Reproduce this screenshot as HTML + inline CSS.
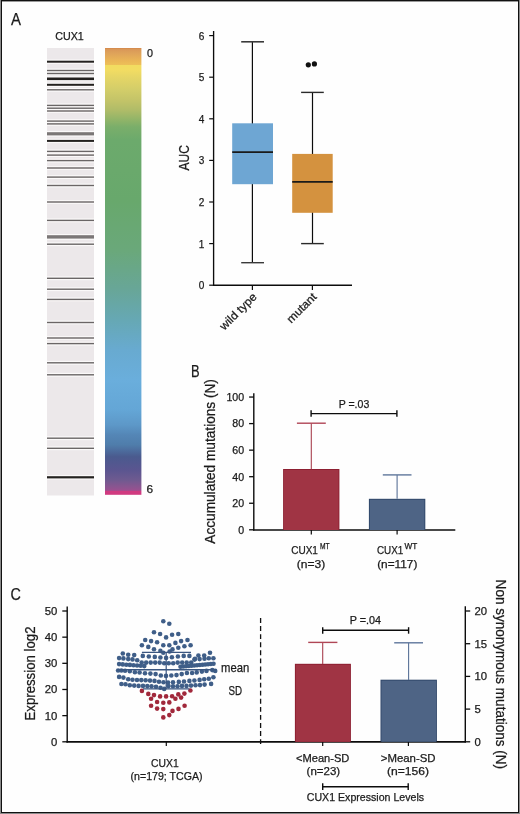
<!DOCTYPE html>
<html><head><meta charset="utf-8"><style>
html,body{margin:0;padding:0;background:#fefefe;}
body{width:520px;height:814px;overflow:hidden;position:relative;}
svg{position:absolute;left:0;top:0;will-change:transform;}
text{font-family:"Liberation Sans", sans-serif;stroke:#1a1a1a;stroke-width:0.25px;paint-order:stroke;}
</style></head><body>
<svg width="520" height="814" viewBox="0 0 520 814">
<rect x="0" y="0" width="520" height="814" fill="#8a8a8a"/>
<rect x="1" y="0" width="518" height="813" fill="#111"/>
<rect x="2" y="1" width="516" height="811" fill="#fefefe"/>
<rect x="2" y="1" width="516" height="0.6" fill="#555"/>
<text x="11.0" y="25.4" font-size="16.5" text-anchor="start" fill="#1a1a1a" textLength="10.0" lengthAdjust="spacingAndGlyphs" >A</text>
<text x="55.2" y="39.6" font-size="11" text-anchor="start" fill="#1a1a1a" textLength="28.6" lengthAdjust="spacingAndGlyphs" >CUX1</text>
<rect x="47" y="48" width="47" height="447.5" fill="#ece8ea"/>
<rect x="47" y="59.5" width="47" height="4.4" fill="#fbf9f9"/>
<rect x="47" y="68.6" width="47" height="3.8" fill="#fbf9f9"/>
<rect x="47" y="71.6" width="47" height="3.8" fill="#fbf9f9"/>
<rect x="47" y="76.3" width="47" height="5.0" fill="#fbf9f9"/>
<rect x="47" y="82.6" width="47" height="4.4" fill="#fbf9f9"/>
<rect x="47" y="87.9" width="47" height="3.8" fill="#fbf9f9"/>
<rect x="47" y="103.5" width="47" height="3.8" fill="#fbf9f9"/>
<rect x="47" y="106.3" width="47" height="3.8" fill="#fbf9f9"/>
<rect x="47" y="109.1" width="47" height="3.8" fill="#fbf9f9"/>
<rect x="47" y="119.2" width="47" height="3.8" fill="#fbf9f9"/>
<rect x="47" y="122.0" width="47" height="3.8" fill="#fbf9f9"/>
<rect x="47" y="131.0" width="47" height="5.6" fill="#fbf9f9"/>
<rect x="47" y="138.7" width="47" height="4.4" fill="#fbf9f9"/>
<rect x="47" y="149.5" width="47" height="3.8" fill="#fbf9f9"/>
<rect x="47" y="153.2" width="47" height="3.8" fill="#fbf9f9"/>
<rect x="47" y="158.7" width="47" height="3.8" fill="#fbf9f9"/>
<rect x="47" y="166.1" width="47" height="3.8" fill="#fbf9f9"/>
<rect x="47" y="175.2" width="47" height="3.8" fill="#fbf9f9"/>
<rect x="47" y="183.6" width="47" height="3.8" fill="#fbf9f9"/>
<rect x="47" y="200.1" width="47" height="3.8" fill="#fbf9f9"/>
<rect x="47" y="218.5" width="47" height="3.8" fill="#fbf9f9"/>
<rect x="47" y="234.0" width="47" height="5.8" fill="#fbf9f9"/>
<rect x="47" y="242.3" width="47" height="3.8" fill="#fbf9f9"/>
<rect x="47" y="276.4" width="47" height="3.8" fill="#fbf9f9"/>
<rect x="47" y="287.3" width="47" height="3.8" fill="#fbf9f9"/>
<rect x="47" y="297.5" width="47" height="3.8" fill="#fbf9f9"/>
<rect x="47" y="320.6" width="47" height="3.8" fill="#fbf9f9"/>
<rect x="47" y="336.1" width="47" height="3.8" fill="#fbf9f9"/>
<rect x="47" y="341.7" width="47" height="3.8" fill="#fbf9f9"/>
<rect x="47" y="360.9" width="47" height="3.8" fill="#fbf9f9"/>
<rect x="47" y="372.9" width="47" height="3.8" fill="#fbf9f9"/>
<rect x="47" y="436.3" width="47" height="3.8" fill="#fbf9f9"/>
<rect x="47" y="446.4" width="47" height="3.8" fill="#fbf9f9"/>
<rect x="47" y="475.0" width="47" height="4.6" fill="#fbf9f9"/>
<rect x="47" y="60.7" width="47" height="2.0" fill="#242220"/>
<rect x="47" y="69.8" width="47" height="1.4" fill="#6a6666"/>
<rect x="47" y="72.8" width="47" height="1.4" fill="#6a6666"/>
<rect x="47" y="77.5" width="47" height="2.6" fill="#242220"/>
<rect x="47" y="83.8" width="47" height="2.0" fill="#242220"/>
<rect x="47" y="89.1" width="47" height="1.4" fill="#6a6666"/>
<rect x="47" y="104.7" width="47" height="1.4" fill="#6a6666"/>
<rect x="47" y="107.5" width="47" height="1.4" fill="#6a6666"/>
<rect x="47" y="110.3" width="47" height="1.4" fill="#6a6666"/>
<rect x="47" y="120.4" width="47" height="1.4" fill="#6a6666"/>
<rect x="47" y="123.2" width="47" height="1.4" fill="#6a6666"/>
<rect x="47" y="132.2" width="47" height="3.2" fill="#7b7777"/>
<rect x="47" y="139.9" width="47" height="2.0" fill="#242220"/>
<rect x="47" y="150.7" width="47" height="1.4" fill="#6a6666"/>
<rect x="47" y="154.4" width="47" height="1.4" fill="#6a6666"/>
<rect x="47" y="159.9" width="47" height="1.4" fill="#6a6666"/>
<rect x="47" y="167.3" width="47" height="1.4" fill="#6a6666"/>
<rect x="47" y="176.4" width="47" height="1.4" fill="#6a6666"/>
<rect x="47" y="184.8" width="47" height="1.4" fill="#6a6666"/>
<rect x="47" y="201.3" width="47" height="1.4" fill="#6a6666"/>
<rect x="47" y="219.7" width="47" height="1.4" fill="#6a6666"/>
<rect x="47" y="235.2" width="47" height="3.4" fill="#7b7777"/>
<rect x="47" y="243.5" width="47" height="1.4" fill="#6a6666"/>
<rect x="47" y="277.6" width="47" height="1.4" fill="#6a6666"/>
<rect x="47" y="288.5" width="47" height="1.4" fill="#6a6666"/>
<rect x="47" y="298.7" width="47" height="1.4" fill="#6a6666"/>
<rect x="47" y="321.8" width="47" height="1.4" fill="#6a6666"/>
<rect x="47" y="337.3" width="47" height="1.4" fill="#6a6666"/>
<rect x="47" y="342.9" width="47" height="1.4" fill="#6a6666"/>
<rect x="47" y="362.1" width="47" height="1.4" fill="#6a6666"/>
<rect x="47" y="374.1" width="47" height="1.4" fill="#6a6666"/>
<rect x="47" y="437.5" width="47" height="1.4" fill="#6a6666"/>
<rect x="47" y="447.6" width="47" height="1.4" fill="#6a6666"/>
<rect x="47" y="476.2" width="47" height="2.2" fill="#242220"/>
<defs><linearGradient id="cb" x1="0" y1="0" x2="0" y2="1">
<stop offset="0.0000" stop-color="#d4874a"/>
<stop offset="0.0034" stop-color="#da9858"/>
<stop offset="0.0112" stop-color="#dea25a"/>
<stop offset="0.0201" stop-color="#e4ac58"/>
<stop offset="0.0291" stop-color="#eab656"/>
<stop offset="0.0376" stop-color="#edbf58"/>
<stop offset="0.0387" stop-color="#f2dc60"/>
<stop offset="0.0492" stop-color="#f2dc62"/>
<stop offset="0.0671" stop-color="#e4d566"/>
<stop offset="0.0940" stop-color="#d2cd69"/>
<stop offset="0.1163" stop-color="#c4c468"/>
<stop offset="0.1387" stop-color="#b0bc68"/>
<stop offset="0.1611" stop-color="#90b468"/>
<stop offset="0.1767" stop-color="#7aae6a"/>
<stop offset="0.2058" stop-color="#6caa6c"/>
<stop offset="0.3400" stop-color="#68a86c"/>
<stop offset="0.4519" stop-color="#6aa87a"/>
<stop offset="0.5414" stop-color="#68a698"/>
<stop offset="0.6085" stop-color="#66a8b4"/>
<stop offset="0.6756" stop-color="#68aad0"/>
<stop offset="0.7427" stop-color="#6aaedc"/>
<stop offset="0.8098" stop-color="#64a6d6"/>
<stop offset="0.8434" stop-color="#5d98c8"/>
<stop offset="0.8658" stop-color="#5486b6"/>
<stop offset="0.8881" stop-color="#4f7dab"/>
<stop offset="0.9150" stop-color="#4a5a8e"/>
<stop offset="0.9441" stop-color="#5a5590"/>
<stop offset="0.9664" stop-color="#6e5a90"/>
<stop offset="0.9821" stop-color="#8a5590"/>
<stop offset="0.9899" stop-color="#9a5090"/>
<stop offset="0.9922" stop-color="#d03a80"/>
<stop offset="1.0000" stop-color="#d03a80"/>
</linearGradient></defs>
<rect x="105" y="48" width="36.4" height="446.8" fill="url(#cb)"/>
<text x="147.0" y="57.3" font-size="11" text-anchor="start" fill="#1a1a1a" textLength="6.0" lengthAdjust="spacingAndGlyphs" >0</text>
<text x="146.6" y="493.4" font-size="11" text-anchor="start" fill="#1a1a1a" textLength="6.6" lengthAdjust="spacingAndGlyphs" >6</text>
<line x1="213.6" y1="31" x2="213.6" y2="286" stroke="#0c0c0c" stroke-width="1.35" />
<line x1="213.0" y1="285.35" x2="352" y2="285.35" stroke="#0c0c0c" stroke-width="1.5" />
<line x1="209.2" y1="285.2" x2="213.6" y2="285.2" stroke="#0c0c0c" stroke-width="1.2" />
<text x="204.4" y="289.2" font-size="11" text-anchor="end" fill="#1a1a1a" textLength="5.6" lengthAdjust="spacingAndGlyphs" >0</text>
<line x1="209.2" y1="243.6" x2="213.6" y2="243.6" stroke="#0c0c0c" stroke-width="1.2" />
<text x="204.4" y="247.6" font-size="11" text-anchor="end" fill="#1a1a1a" textLength="5.6" lengthAdjust="spacingAndGlyphs" >1</text>
<line x1="209.2" y1="202.0" x2="213.6" y2="202.0" stroke="#0c0c0c" stroke-width="1.2" />
<text x="204.4" y="206.0" font-size="11" text-anchor="end" fill="#1a1a1a" textLength="5.6" lengthAdjust="spacingAndGlyphs" >2</text>
<line x1="209.2" y1="160.39999999999998" x2="213.6" y2="160.39999999999998" stroke="#0c0c0c" stroke-width="1.2" />
<text x="204.4" y="164.39999999999998" font-size="11" text-anchor="end" fill="#1a1a1a" textLength="5.6" lengthAdjust="spacingAndGlyphs" >3</text>
<line x1="209.2" y1="118.79999999999998" x2="213.6" y2="118.79999999999998" stroke="#0c0c0c" stroke-width="1.2" />
<text x="204.4" y="122.79999999999998" font-size="11" text-anchor="end" fill="#1a1a1a" textLength="5.6" lengthAdjust="spacingAndGlyphs" >4</text>
<line x1="209.2" y1="77.19999999999999" x2="213.6" y2="77.19999999999999" stroke="#0c0c0c" stroke-width="1.2" />
<text x="204.4" y="81.19999999999999" font-size="11" text-anchor="end" fill="#1a1a1a" textLength="5.6" lengthAdjust="spacingAndGlyphs" >5</text>
<line x1="209.2" y1="35.599999999999966" x2="213.6" y2="35.599999999999966" stroke="#0c0c0c" stroke-width="1.2" />
<text x="204.4" y="39.599999999999966" font-size="11" text-anchor="end" fill="#1a1a1a" textLength="5.6" lengthAdjust="spacingAndGlyphs" >6</text>
<text x="0" y="0" font-size="14" text-anchor="middle" fill="#1a1a1a" textLength="25.4" lengthAdjust="spacingAndGlyphs" transform="translate(189,157.8) rotate(-90)">AUC</text>
<line x1="252.4" y1="285.4" x2="252.4" y2="290" stroke="#0c0c0c" stroke-width="1.2" />
<line x1="312.4" y1="285.4" x2="312.4" y2="290" stroke="#0c0c0c" stroke-width="1.2" />
<text x="0" y="0" font-size="11.5" text-anchor="end" fill="#1a1a1a" textLength="47" lengthAdjust="spacingAndGlyphs" transform="translate(257.5,297.5) rotate(-45)">wild type</text>
<text x="0" y="0" font-size="11.5" text-anchor="end" fill="#1a1a1a" textLength="37" lengthAdjust="spacingAndGlyphs" transform="translate(317.5,297.5) rotate(-45)">mutant</text>
<line x1="252.4" y1="41.8" x2="252.4" y2="262.7" stroke="#0c0c0c" stroke-width="1.2" />
<line x1="241.2" y1="41.8" x2="264" y2="41.8" stroke="#3a3a3a" stroke-width="1.6" />
<line x1="241.2" y1="262.7" x2="264" y2="262.7" stroke="#3a3a3a" stroke-width="1.4" />
<rect x="232.2" y="123.3" width="40.8" height="60.9" fill="#6ea6d3"/>
<line x1="232.2" y1="152.1" x2="273" y2="152.1" stroke="#1a1a1a" stroke-width="1.8" />
<line x1="312.5" y1="92.4" x2="312.5" y2="243.6" stroke="#0c0c0c" stroke-width="1.2" />
<line x1="301.1" y1="92.4" x2="323.8" y2="92.4" stroke="#2a2a2a" stroke-width="1.4" />
<line x1="301.1" y1="243.6" x2="323.8" y2="243.6" stroke="#2a2a2a" stroke-width="1.4" />
<rect x="292.2" y="153.9" width="40.5" height="58.9" fill="#d4923f"/>
<line x1="292.2" y1="181.9" x2="332.7" y2="181.9" stroke="#1a1a1a" stroke-width="1.8" />
<circle cx="308.3" cy="64.8" r="2.6" fill="#111"/>
<circle cx="314.4" cy="63.9" r="2.6" fill="#111"/>
<text x="191.0" y="376.6" font-size="16.8" text-anchor="start" fill="#1a1a1a" textLength="8.6" lengthAdjust="spacingAndGlyphs" >B</text>
<line x1="253.8" y1="393.2" x2="253.8" y2="530.6" stroke="#0c0c0c" stroke-width="1.4" />
<line x1="253.10000000000002" y1="530" x2="455.3" y2="530" stroke="#0c0c0c" stroke-width="1.5" />
<line x1="249.1" y1="529.8" x2="253.8" y2="529.8" stroke="#0c0c0c" stroke-width="1.3" />
<text x="244.1" y="533.5999999999999" font-size="10.6" text-anchor="end" fill="#1a1a1a" textLength="5.9" lengthAdjust="spacingAndGlyphs" >0</text>
<line x1="249.1" y1="503.24999999999994" x2="253.8" y2="503.24999999999994" stroke="#0c0c0c" stroke-width="1.3" />
<text x="244.1" y="507.04999999999995" font-size="10.6" text-anchor="end" fill="#1a1a1a" textLength="11.8" lengthAdjust="spacingAndGlyphs" >20</text>
<line x1="249.1" y1="476.69999999999993" x2="253.8" y2="476.69999999999993" stroke="#0c0c0c" stroke-width="1.3" />
<text x="244.1" y="480.49999999999994" font-size="10.6" text-anchor="end" fill="#1a1a1a" textLength="11.8" lengthAdjust="spacingAndGlyphs" >40</text>
<line x1="249.1" y1="450.15" x2="253.8" y2="450.15" stroke="#0c0c0c" stroke-width="1.3" />
<text x="244.1" y="453.95" font-size="10.6" text-anchor="end" fill="#1a1a1a" textLength="11.8" lengthAdjust="spacingAndGlyphs" >60</text>
<line x1="249.1" y1="423.59999999999997" x2="253.8" y2="423.59999999999997" stroke="#0c0c0c" stroke-width="1.3" />
<text x="244.1" y="427.4" font-size="10.6" text-anchor="end" fill="#1a1a1a" textLength="11.8" lengthAdjust="spacingAndGlyphs" >80</text>
<line x1="249.1" y1="397.04999999999995" x2="253.8" y2="397.04999999999995" stroke="#0c0c0c" stroke-width="1.3" />
<text x="244.1" y="400.84999999999997" font-size="10.6" text-anchor="end" fill="#1a1a1a" textLength="17.700000000000003" lengthAdjust="spacingAndGlyphs" >100</text>
<text x="0" y="0" font-size="14" text-anchor="middle" fill="#1a1a1a" textLength="164.6" lengthAdjust="spacingAndGlyphs" transform="translate(215.4,461.4) rotate(-90)">Accumulated mutations (N)</text>
<rect x="283.1" y="469.0" width="56.3" height="61" fill="#8c1e30"/>
<rect x="284.0" y="469.9" width="54.5" height="60.1" fill="#a03444"/>
<line x1="311.3" y1="423.2" x2="311.3" y2="469.2" stroke="#a8404f" stroke-width="1.1" />
<line x1="296.9" y1="423.2" x2="325.8" y2="423.2" stroke="#b04656" stroke-width="1.4" />
<rect x="368.9" y="498.8" width="56.4" height="31.2" fill="#2e4568"/>
<rect x="369.79999999999995" y="499.7" width="54.6" height="30.3" fill="#4e6485"/>
<line x1="397.1" y1="474.9" x2="397.1" y2="498.8" stroke="#5a7298" stroke-width="1.1" />
<line x1="382.8" y1="474.9" x2="411.5" y2="474.9" stroke="#5f779c" stroke-width="1.4" />
<line x1="311.3" y1="530" x2="311.3" y2="534.6" stroke="#0c0c0c" stroke-width="1.2" />
<line x1="397.1" y1="530" x2="397.1" y2="534.6" stroke="#0c0c0c" stroke-width="1.2" />
<line x1="311.1" y1="413.6" x2="396.9" y2="413.6" stroke="#0c0c0c" stroke-width="1.4" />
<line x1="311.1" y1="410.2" x2="311.1" y2="416.8" stroke="#0c0c0c" stroke-width="1.4" />
<line x1="396.9" y1="410.2" x2="396.9" y2="416.8" stroke="#0c0c0c" stroke-width="1.4" />
<text x="338.7" y="407.6" font-size="10.7" text-anchor="start" fill="#1a1a1a" textLength="30.6" lengthAdjust="spacingAndGlyphs" >P =.03</text>
<text x="291.2" y="553.8" font-size="11" text-anchor="start" fill="#1a1a1a" textLength="26.7" lengthAdjust="spacingAndGlyphs" >CUX1</text>
<text x="320.0" y="549.4" font-size="8.2" text-anchor="start" fill="#1a1a1a" textLength="9.6" lengthAdjust="spacingAndGlyphs" >MT</text>
<text x="296.8" y="567.9" font-size="10.7" text-anchor="start" fill="#1a1a1a" textLength="28.4" lengthAdjust="spacingAndGlyphs" >(n=3)</text>
<text x="377.0" y="553.8" font-size="11" text-anchor="start" fill="#1a1a1a" textLength="26.3" lengthAdjust="spacingAndGlyphs" >CUX1</text>
<text x="404.5" y="549.4" font-size="8.2" text-anchor="start" fill="#1a1a1a" textLength="12.8" lengthAdjust="spacingAndGlyphs" >WT</text>
<text x="377.2" y="567.9" font-size="10.7" text-anchor="start" fill="#1a1a1a" textLength="40.2" lengthAdjust="spacingAndGlyphs" >(n=117)</text>
<text x="10.6" y="600.2" font-size="16" text-anchor="start" fill="#1a1a1a" textLength="10.4" lengthAdjust="spacingAndGlyphs" >C</text>
<line x1="67.2" y1="606.5" x2="67.2" y2="742.5" stroke="#0c0c0c" stroke-width="1.4" />
<line x1="66.5" y1="741.9" x2="465.8" y2="741.9" stroke="#0c0c0c" stroke-width="1.6" />
<line x1="62.3" y1="741.8" x2="67.2" y2="741.8" stroke="#0c0c0c" stroke-width="1.3" />
<text x="57.4" y="745.6999999999999" font-size="10.8" text-anchor="end" fill="#1a1a1a" textLength="6.3" lengthAdjust="spacingAndGlyphs" >0</text>
<line x1="62.3" y1="715.64" x2="67.2" y2="715.64" stroke="#0c0c0c" stroke-width="1.3" />
<text x="57.4" y="719.54" font-size="10.8" text-anchor="end" fill="#1a1a1a" textLength="12.6" lengthAdjust="spacingAndGlyphs" >10</text>
<line x1="62.3" y1="689.4799999999999" x2="67.2" y2="689.4799999999999" stroke="#0c0c0c" stroke-width="1.3" />
<text x="57.4" y="693.3799999999999" font-size="10.8" text-anchor="end" fill="#1a1a1a" textLength="12.6" lengthAdjust="spacingAndGlyphs" >20</text>
<line x1="62.3" y1="663.3199999999999" x2="67.2" y2="663.3199999999999" stroke="#0c0c0c" stroke-width="1.3" />
<text x="57.4" y="667.2199999999999" font-size="10.8" text-anchor="end" fill="#1a1a1a" textLength="12.6" lengthAdjust="spacingAndGlyphs" >30</text>
<line x1="62.3" y1="637.16" x2="67.2" y2="637.16" stroke="#0c0c0c" stroke-width="1.3" />
<text x="57.4" y="641.06" font-size="10.8" text-anchor="end" fill="#1a1a1a" textLength="12.6" lengthAdjust="spacingAndGlyphs" >40</text>
<line x1="62.3" y1="611.0" x2="67.2" y2="611.0" stroke="#0c0c0c" stroke-width="1.3" />
<text x="57.4" y="614.9" font-size="10.8" text-anchor="end" fill="#1a1a1a" textLength="12.6" lengthAdjust="spacingAndGlyphs" >50</text>
<text x="0" y="0" font-size="14" text-anchor="middle" fill="#1a1a1a" textLength="94.0" lengthAdjust="spacingAndGlyphs" transform="translate(34.9,673.5) rotate(-90)">Expression log2</text>
<line x1="166.3" y1="741.9" x2="166.3" y2="746" stroke="#0c0c0c" stroke-width="1.2" />
<line x1="260.6" y1="618" x2="260.6" y2="744" stroke="#111" stroke-width="1.3" stroke-dasharray="4.9 3.18"/>
<line x1="465.3" y1="606.3" x2="465.3" y2="742.5" stroke="#0c0c0c" stroke-width="1.4" />
<line x1="465.3" y1="741.8" x2="470.2" y2="741.8" stroke="#0c0c0c" stroke-width="1.3" />
<text x="474.4" y="745.6999999999999" font-size="10.8" text-anchor="start" fill="#1a1a1a" textLength="6.3" lengthAdjust="spacingAndGlyphs" >0</text>
<line x1="465.3" y1="709.0999999999999" x2="470.2" y2="709.0999999999999" stroke="#0c0c0c" stroke-width="1.3" />
<text x="474.4" y="712.9999999999999" font-size="10.8" text-anchor="start" fill="#1a1a1a" textLength="6.3" lengthAdjust="spacingAndGlyphs" >5</text>
<line x1="465.3" y1="676.4" x2="470.2" y2="676.4" stroke="#0c0c0c" stroke-width="1.3" />
<text x="474.4" y="680.3" font-size="10.8" text-anchor="start" fill="#1a1a1a" textLength="12.6" lengthAdjust="spacingAndGlyphs" >10</text>
<line x1="465.3" y1="643.6999999999999" x2="470.2" y2="643.6999999999999" stroke="#0c0c0c" stroke-width="1.3" />
<text x="474.4" y="647.5999999999999" font-size="10.8" text-anchor="start" fill="#1a1a1a" textLength="12.6" lengthAdjust="spacingAndGlyphs" >15</text>
<line x1="465.3" y1="611.0" x2="470.2" y2="611.0" stroke="#0c0c0c" stroke-width="1.3" />
<text x="474.4" y="614.9" font-size="10.8" text-anchor="start" fill="#1a1a1a" textLength="12.6" lengthAdjust="spacingAndGlyphs" >20</text>
<text x="0" y="0" font-size="14" text-anchor="middle" fill="#1a1a1a" textLength="189.4" lengthAdjust="spacingAndGlyphs" transform="translate(496.2,674.3) rotate(90)">Non synonymous mutations (N)</text>
<rect x="294.9" y="663.8" width="56.0" height="78" fill="#8c1e30"/>
<rect x="295.79999999999995" y="664.6999999999999" width="54.2" height="77.1" fill="#a03444"/>
<line x1="322.7" y1="642.4" x2="322.7" y2="664" stroke="#a8404f" stroke-width="1.1" />
<line x1="308.2" y1="642.4" x2="337.4" y2="642.4" stroke="#b04656" stroke-width="1.4" />
<rect x="380.5" y="679.7" width="56.4" height="62" fill="#2e4568"/>
<rect x="381.4" y="680.6" width="54.6" height="61.1" fill="#4e6485"/>
<line x1="408.6" y1="642.8" x2="408.6" y2="680" stroke="#5a7298" stroke-width="1.1" />
<line x1="394.2" y1="642.8" x2="423.0" y2="642.8" stroke="#5f779c" stroke-width="1.4" />
<line x1="322.7" y1="741.9" x2="322.7" y2="746" stroke="#0c0c0c" stroke-width="1.2" />
<line x1="408.4" y1="741.9" x2="408.4" y2="746" stroke="#0c0c0c" stroke-width="1.2" />
<line x1="322.7" y1="630.2" x2="408.6" y2="630.2" stroke="#0c0c0c" stroke-width="1.4" />
<line x1="322.7" y1="627.2" x2="322.7" y2="633.7" stroke="#0c0c0c" stroke-width="1.4" />
<line x1="408.6" y1="627.2" x2="408.6" y2="633.7" stroke="#0c0c0c" stroke-width="1.4" />
<text x="349.7" y="624.2" font-size="10.7" text-anchor="start" fill="#1a1a1a" textLength="31.3" lengthAdjust="spacingAndGlyphs" >P =.04</text>
<text x="296.0" y="761.6" font-size="11" text-anchor="start" fill="#1a1a1a" textLength="53.4" lengthAdjust="spacingAndGlyphs" >&lt;Mean-SD</text>
<text x="306.6" y="774.6" font-size="10.7" text-anchor="start" fill="#1a1a1a" textLength="33.5" lengthAdjust="spacingAndGlyphs" >(n=23)</text>
<text x="380.8" y="761.6" font-size="11" text-anchor="start" fill="#1a1a1a" textLength="54.8" lengthAdjust="spacingAndGlyphs" >&gt;Mean-SD</text>
<text x="387.0" y="774.6" font-size="10.7" text-anchor="start" fill="#1a1a1a" textLength="42.0" lengthAdjust="spacingAndGlyphs" >(n=156)</text>
<line x1="322.7" y1="786.7" x2="408.2" y2="786.7" stroke="#0c0c0c" stroke-width="1.4" />
<line x1="322.7" y1="783.3" x2="322.7" y2="789.9" stroke="#0c0c0c" stroke-width="1.4" />
<line x1="408.2" y1="783.3" x2="408.2" y2="789.9" stroke="#0c0c0c" stroke-width="1.4" />
<text x="306.8" y="800.6" font-size="11" text-anchor="start" fill="#1a1a1a" textLength="117.3" lengthAdjust="spacingAndGlyphs" >CUX1 Expression Levels</text>
<text x="151.1" y="766.6" font-size="11" text-anchor="start" fill="#1a1a1a" textLength="27.6" lengthAdjust="spacingAndGlyphs" >CUX1</text>
<text x="130.5" y="779.8" font-size="10.7" text-anchor="start" fill="#1a1a1a" textLength="72.1" lengthAdjust="spacingAndGlyphs" >(n=179; TCGA)</text>
<text x="221.0" y="672.0" font-size="13" text-anchor="start" fill="#1a1a1a" textLength="28.2" lengthAdjust="spacingAndGlyphs" >mean</text>
<text x="228.4" y="695.1" font-size="12" text-anchor="start" fill="#1a1a1a" textLength="13.6" lengthAdjust="spacingAndGlyphs" >SD</text>
<circle cx="163.3" cy="621.3" r="2.3" fill="#3f5e88"/>
<circle cx="169.3" cy="623.8" r="2.3" fill="#3f5e88"/>
<circle cx="154.0" cy="632.3" r="2.3" fill="#3f5e88"/>
<circle cx="160.1" cy="634.0" r="2.3" fill="#3f5e88"/>
<circle cx="166.1" cy="637.4" r="2.3" fill="#3f5e88"/>
<circle cx="172.1" cy="634.8" r="2.3" fill="#3f5e88"/>
<circle cx="178.3" cy="634.0" r="2.3" fill="#3f5e88"/>
<circle cx="145.2" cy="640.0" r="2.3" fill="#3f5e88"/>
<circle cx="151.1" cy="641.1" r="2.3" fill="#3f5e88"/>
<circle cx="157.1" cy="642.3" r="2.3" fill="#3f5e88"/>
<circle cx="163.3" cy="645.2" r="2.3" fill="#3f5e88"/>
<circle cx="169.3" cy="645.2" r="2.3" fill="#3f5e88"/>
<circle cx="175.4" cy="642.9" r="2.3" fill="#3f5e88"/>
<circle cx="181.1" cy="641.1" r="2.3" fill="#3f5e88"/>
<circle cx="187.5" cy="640.0" r="2.3" fill="#3f5e88"/>
<circle cx="141.9" cy="645.2" r="2.3" fill="#3f5e88"/>
<circle cx="148.3" cy="646.9" r="2.3" fill="#3f5e88"/>
<circle cx="154.0" cy="649.2" r="2.3" fill="#3f5e88"/>
<circle cx="160.4" cy="650.9" r="2.3" fill="#3f5e88"/>
<circle cx="163.3" cy="652.7" r="2.3" fill="#3f5e88"/>
<circle cx="169.6" cy="651.5" r="2.3" fill="#3f5e88"/>
<circle cx="172.5" cy="649.4" r="2.3" fill="#3f5e88"/>
<circle cx="178.3" cy="647.8" r="2.3" fill="#3f5e88"/>
<circle cx="184.4" cy="646.3" r="2.3" fill="#3f5e88"/>
<circle cx="190.6" cy="645.2" r="2.3" fill="#3f5e88"/>
<circle cx="122.8" cy="653.5" r="2.3" fill="#3f5e88"/>
<circle cx="128.2" cy="654.7" r="2.3" fill="#3f5e88"/>
<circle cx="134.2" cy="655.0" r="2.3" fill="#3f5e88"/>
<circle cx="142.8" cy="655.9" r="2.3" fill="#3f5e88"/>
<circle cx="148.8" cy="656.5" r="2.3" fill="#3f5e88"/>
<circle cx="154.8" cy="656.9" r="2.3" fill="#3f5e88"/>
<circle cx="160.4" cy="657.5" r="2.3" fill="#3f5e88"/>
<circle cx="166.1" cy="657.9" r="2.3" fill="#3f5e88"/>
<circle cx="171.9" cy="657.3" r="2.3" fill="#3f5e88"/>
<circle cx="177.9" cy="656.5" r="2.3" fill="#3f5e88"/>
<circle cx="183.7" cy="655.9" r="2.3" fill="#3f5e88"/>
<circle cx="189.4" cy="655.9" r="2.3" fill="#3f5e88"/>
<circle cx="195.0" cy="658.9" r="2.3" fill="#3f5e88"/>
<circle cx="198.4" cy="655.5" r="2.3" fill="#3f5e88"/>
<circle cx="204.2" cy="655.5" r="2.3" fill="#3f5e88"/>
<circle cx="210.0" cy="652.8" r="2.3" fill="#3f5e88"/>
<circle cx="199.6" cy="659.1" r="2.3" fill="#3f5e88"/>
<circle cx="204.5" cy="658.8" r="2.3" fill="#3f5e88"/>
<circle cx="208.8" cy="658.2" r="2.3" fill="#3f5e88"/>
<circle cx="213.4" cy="658.2" r="2.3" fill="#3f5e88"/>
<circle cx="119.1" cy="658.1" r="2.3" fill="#3f5e88"/>
<circle cx="123.4" cy="658.4" r="2.3" fill="#3f5e88"/>
<circle cx="128.2" cy="659.1" r="2.3" fill="#3f5e88"/>
<circle cx="132.5" cy="659.4" r="2.3" fill="#3f5e88"/>
<circle cx="137.2" cy="660.3" r="2.3" fill="#3f5e88"/>
<circle cx="194.4" cy="659.6" r="2.3" fill="#3f5e88"/>
<circle cx="119.1" cy="664.1" r="2.3" fill="#3f5e88"/>
<circle cx="122.7" cy="664.4" r="2.3" fill="#3f5e88"/>
<circle cx="126.3" cy="664.7" r="2.3" fill="#3f5e88"/>
<circle cx="129.9" cy="664.9" r="2.3" fill="#3f5e88"/>
<circle cx="133.5" cy="665.2" r="2.3" fill="#3f5e88"/>
<circle cx="137.1" cy="665.5" r="2.3" fill="#3f5e88"/>
<circle cx="140.7" cy="665.8" r="2.3" fill="#3f5e88"/>
<circle cx="144.3" cy="666.1" r="2.3" fill="#3f5e88"/>
<circle cx="141.7" cy="662.6" r="2.3" fill="#3f5e88"/>
<circle cx="146.2" cy="662.6" r="2.3" fill="#3f5e88"/>
<circle cx="150.7" cy="662.6" r="2.3" fill="#3f5e88"/>
<circle cx="155.2" cy="662.6" r="2.3" fill="#3f5e88"/>
<circle cx="159.7" cy="662.6" r="2.3" fill="#3f5e88"/>
<circle cx="164.2" cy="663.2" r="2.3" fill="#3f5e88"/>
<circle cx="168.7" cy="663.2" r="2.3" fill="#3f5e88"/>
<circle cx="173.2" cy="663.2" r="2.3" fill="#3f5e88"/>
<circle cx="177.7" cy="662.6" r="2.3" fill="#3f5e88"/>
<circle cx="182.2" cy="662.6" r="2.3" fill="#3f5e88"/>
<circle cx="186.7" cy="662.6" r="2.3" fill="#3f5e88"/>
<circle cx="191.2" cy="662.6" r="2.3" fill="#3f5e88"/>
<circle cx="180.5" cy="666.8" r="2.3" fill="#3f5e88"/>
<circle cx="183.2" cy="666.5" r="2.3" fill="#3f5e88"/>
<circle cx="186.0" cy="666.3" r="2.3" fill="#3f5e88"/>
<circle cx="188.8" cy="666.0" r="2.3" fill="#3f5e88"/>
<circle cx="191.5" cy="665.8" r="2.3" fill="#3f5e88"/>
<circle cx="194.2" cy="665.5" r="2.3" fill="#3f5e88"/>
<circle cx="197.0" cy="665.3" r="2.3" fill="#3f5e88"/>
<circle cx="199.8" cy="665.0" r="2.3" fill="#3f5e88"/>
<circle cx="202.5" cy="664.8" r="2.3" fill="#3f5e88"/>
<circle cx="205.2" cy="664.5" r="2.3" fill="#3f5e88"/>
<circle cx="208.0" cy="664.3" r="2.3" fill="#3f5e88"/>
<circle cx="210.8" cy="664.0" r="2.3" fill="#3f5e88"/>
<circle cx="213.5" cy="663.8" r="2.3" fill="#3f5e88"/>
<circle cx="118.1" cy="670.5" r="2.3" fill="#3f5e88"/>
<circle cx="121.4" cy="670.5" r="2.3" fill="#3f5e88"/>
<circle cx="125.1" cy="670.8" r="2.3" fill="#3f5e88"/>
<circle cx="129.8" cy="671.2" r="2.3" fill="#3f5e88"/>
<circle cx="134.9" cy="672.2" r="2.3" fill="#3f5e88"/>
<circle cx="139.6" cy="672.5" r="2.3" fill="#3f5e88"/>
<circle cx="145.0" cy="673.3" r="2.3" fill="#3f5e88"/>
<circle cx="150.4" cy="673.6" r="2.3" fill="#3f5e88"/>
<circle cx="155.6" cy="674.1" r="2.3" fill="#3f5e88"/>
<circle cx="160.8" cy="675.5" r="2.3" fill="#3f5e88"/>
<circle cx="166.0" cy="675.9" r="2.3" fill="#3f5e88"/>
<circle cx="171.3" cy="675.5" r="2.3" fill="#3f5e88"/>
<circle cx="176.5" cy="675.1" r="2.3" fill="#3f5e88"/>
<circle cx="181.7" cy="674.1" r="2.3" fill="#3f5e88"/>
<circle cx="186.9" cy="673.0" r="2.3" fill="#3f5e88"/>
<circle cx="192.1" cy="673.0" r="2.3" fill="#3f5e88"/>
<circle cx="196.7" cy="672.4" r="2.3" fill="#3f5e88"/>
<circle cx="201.9" cy="671.6" r="2.3" fill="#3f5e88"/>
<circle cx="206.5" cy="670.9" r="2.3" fill="#3f5e88"/>
<circle cx="212.3" cy="670.1" r="2.3" fill="#3f5e88"/>
<circle cx="215.2" cy="670.9" r="2.3" fill="#3f5e88"/>
<circle cx="119.1" cy="676.9" r="2.3" fill="#3f5e88"/>
<circle cx="123.4" cy="677.6" r="2.3" fill="#3f5e88"/>
<circle cx="128.2" cy="679.3" r="2.3" fill="#3f5e88"/>
<circle cx="132.5" cy="679.7" r="2.3" fill="#3f5e88"/>
<circle cx="137.0" cy="680.0" r="2.3" fill="#3f5e88"/>
<circle cx="141.3" cy="680.1" r="2.3" fill="#3f5e88"/>
<circle cx="145.6" cy="680.3" r="2.3" fill="#3f5e88"/>
<circle cx="150.0" cy="680.6" r="2.3" fill="#3f5e88"/>
<circle cx="154.5" cy="680.9" r="2.3" fill="#3f5e88"/>
<circle cx="159.0" cy="681.8" r="2.3" fill="#3f5e88"/>
<circle cx="163.5" cy="682.3" r="2.3" fill="#3f5e88"/>
<circle cx="168.0" cy="682.6" r="2.3" fill="#3f5e88"/>
<circle cx="173.0" cy="682.3" r="2.3" fill="#3f5e88"/>
<circle cx="178.8" cy="681.9" r="2.3" fill="#3f5e88"/>
<circle cx="184.0" cy="681.5" r="2.3" fill="#3f5e88"/>
<circle cx="189.4" cy="680.9" r="2.3" fill="#3f5e88"/>
<circle cx="194.4" cy="680.5" r="2.3" fill="#3f5e88"/>
<circle cx="199.6" cy="679.9" r="2.3" fill="#3f5e88"/>
<circle cx="204.2" cy="679.3" r="2.3" fill="#3f5e88"/>
<circle cx="208.8" cy="678.7" r="2.3" fill="#3f5e88"/>
<circle cx="213.4" cy="677.3" r="2.3" fill="#3f5e88"/>
<circle cx="121.4" cy="684.0" r="2.3" fill="#3f5e88"/>
<circle cx="125.5" cy="684.3" r="2.3" fill="#3f5e88"/>
<circle cx="129.8" cy="685.2" r="2.3" fill="#3f5e88"/>
<circle cx="134.2" cy="685.6" r="2.3" fill="#3f5e88"/>
<circle cx="138.6" cy="685.9" r="2.3" fill="#3f5e88"/>
<circle cx="143.0" cy="685.9" r="2.3" fill="#3f5e88"/>
<circle cx="147.3" cy="686.1" r="2.3" fill="#3f5e88"/>
<circle cx="151.5" cy="686.3" r="2.3" fill="#3f5e88"/>
<circle cx="156.0" cy="686.8" r="2.3" fill="#3f5e88"/>
<circle cx="160.5" cy="687.7" r="2.3" fill="#3f5e88"/>
<circle cx="164.2" cy="688.9" r="2.3" fill="#3f5e88"/>
<circle cx="168.5" cy="686.1" r="2.3" fill="#3f5e88"/>
<circle cx="173.0" cy="686.2" r="2.3" fill="#3f5e88"/>
<circle cx="177.5" cy="686.2" r="2.3" fill="#3f5e88"/>
<circle cx="182.0" cy="685.9" r="2.3" fill="#3f5e88"/>
<circle cx="186.5" cy="685.9" r="2.3" fill="#3f5e88"/>
<circle cx="191.0" cy="685.6" r="2.3" fill="#3f5e88"/>
<circle cx="195.5" cy="685.3" r="2.3" fill="#3f5e88"/>
<circle cx="200.0" cy="685.1" r="2.3" fill="#3f5e88"/>
<circle cx="204.6" cy="684.6" r="2.3" fill="#3f5e88"/>
<circle cx="211.1" cy="683.9" r="2.3" fill="#3f5e88"/>
<circle cx="141.9" cy="690.9" r="2.3" fill="#a1283b"/>
<circle cx="190.4" cy="690.5" r="2.3" fill="#a1283b"/>
<circle cx="148.3" cy="693.9" r="2.3" fill="#a1283b"/>
<circle cx="154.0" cy="695.1" r="2.3" fill="#a1283b"/>
<circle cx="160.1" cy="696.4" r="2.3" fill="#a1283b"/>
<circle cx="166.1" cy="696.4" r="2.3" fill="#a1283b"/>
<circle cx="172.1" cy="696.2" r="2.3" fill="#a1283b"/>
<circle cx="175.4" cy="698.8" r="2.3" fill="#a1283b"/>
<circle cx="178.3" cy="694.4" r="2.3" fill="#a1283b"/>
<circle cx="184.4" cy="693.6" r="2.3" fill="#a1283b"/>
<circle cx="181.1" cy="697.6" r="2.3" fill="#a1283b"/>
<circle cx="151.1" cy="698.8" r="2.3" fill="#a1283b"/>
<circle cx="157.1" cy="702.0" r="2.3" fill="#a1283b"/>
<circle cx="163.3" cy="702.8" r="2.3" fill="#a1283b"/>
<circle cx="169.3" cy="702.4" r="2.3" fill="#a1283b"/>
<circle cx="151.1" cy="705.7" r="2.3" fill="#a1283b"/>
<circle cx="184.6" cy="705.7" r="2.3" fill="#a1283b"/>
<circle cx="157.1" cy="708.6" r="2.3" fill="#a1283b"/>
<circle cx="163.3" cy="709.1" r="2.3" fill="#a1283b"/>
<circle cx="172.5" cy="710.9" r="2.3" fill="#a1283b"/>
<circle cx="178.5" cy="708.9" r="2.3" fill="#a1283b"/>
<circle cx="169.3" cy="715.1" r="2.3" fill="#a1283b"/>
<circle cx="163.3" cy="717.4" r="2.3" fill="#a1283b"/>
<line x1="117" y1="669.8" x2="216" y2="669.8" stroke="#3a5680" stroke-width="1.4" />
<line x1="141.9" y1="652.4" x2="191" y2="652.4" stroke="#3a5680" stroke-width="1.2" />
<line x1="143" y1="688.8" x2="189.5" y2="688.8" stroke="#3a5680" stroke-width="1.2" />
<line x1="166.2" y1="652.4" x2="166.2" y2="688.8" stroke="#3a5680" stroke-width="1.2" />
</svg>
</body></html>
